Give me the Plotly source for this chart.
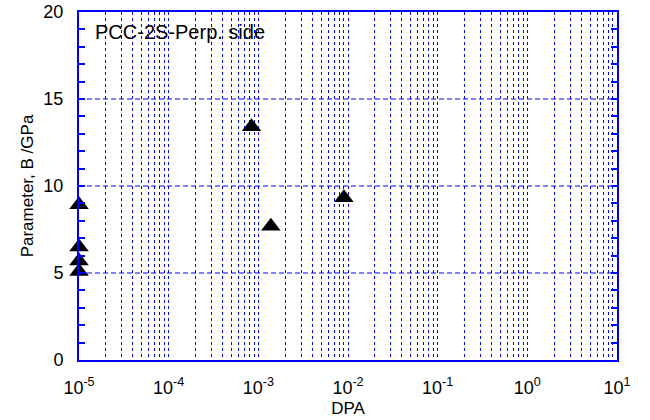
import plotly.graph_objects as go

# Measured points (DPA vs. parameter B)
dpa = [1e-5, 1e-5, 1e-5, 1e-5, 8.4e-4, 1.38e-3, 9.0e-3]
param_b = [8.92, 6.5, 5.69, 5.08, 13.4, 7.68, 9.32]

x_decades = [-5, -4, -3, -2, -1, 0, 1]
y_ticks = [0, 5, 10, 15, 20]
y_grid = [5, 10, 15]
y_minor_step = 1
label_text = "PCC-2S-Perp. side"

BLUE = "#0000FF"
FONT = "Liberation Sans, Arial, sans-serif"

# Log grid: a line at every 1..9 multiple, labels only at decades
x_tickvals, x_ticktext = [], []
for e in x_decades:
    for k in range(1, 10):
        if e == x_decades[-1] and k > 1:
            break
        x_tickvals.append(k * 10.0 ** e)
        x_ticktext.append(f"10<sup>{e}</sup>" if k == 1 else "")

# Linear axis: a tick at every unit, labels only at the major values
y_tickvals = list(range(y_ticks[0], y_ticks[-1] + 1, y_minor_step))
y_ticktext = [str(v) if v in y_ticks else "" for v in y_tickvals]

fig = go.Figure()
fig.add_trace(go.Scatter(
    x=dpa, y=param_b, mode="markers",
    marker=dict(symbol="triangle-up", size=17, color="black"),
    cliponaxis=False, showlegend=False, hoverinfo="skip",
))

# Dashed horizontal grid at the labelled values
for v in y_grid:
    fig.add_shape(
        type="line", xref="paper", yref="y", x0=0, x1=1, y0=v, y1=v,
        line=dict(color=BLUE, width=1, dash="5px,3px"), layer="below",
    )

fig.update_layout(
    width=650, height=420,
    margin=dict(l=79, r=33, t=12, b=60),
    paper_bgcolor="white", plot_bgcolor="white",
    font=dict(family=FONT, size=18, color="black"),
    xaxis=dict(
        type="log", range=[x_decades[0], x_decades[-1]],
        tickvals=x_tickvals, ticktext=x_ticktext,
        tickfont=dict(size=18), automargin=False,
        showgrid=True, gridcolor=BLUE, gridwidth=1, griddash="3px,3px",
        showline=True, linecolor=BLUE, linewidth=2, mirror=True,
        ticks="", ticklabelstandoff=10,
        title=dict(text="DPA", font=dict(size=17), standoff=6),
        zeroline=False, showspikes=False,
    ),
    yaxis=dict(
        range=[0, 20], tickvals=y_tickvals, ticktext=y_ticktext,
        tickfont=dict(size=18), automargin=False,
        showgrid=False,
        showline=True, linecolor=BLUE, linewidth=2, mirror="ticks",
        ticks="inside", ticklen=6, tickcolor=BLUE, tickwidth=1.5,
        ticklabelstandoff=10,
        title=dict(text="Parameter, B /GPa", font=dict(size=17), standoff=5),
        zeroline=False, showspikes=False,
    ),
)

fig.add_annotation(
    x=0.026, y=0.942, xref="paper", yref="paper",
    xanchor="left", yanchor="middle", showarrow=False,
    text=label_text, font=dict(size=20, family=FONT, color="black"),
)

fig.write_html("out.html")
